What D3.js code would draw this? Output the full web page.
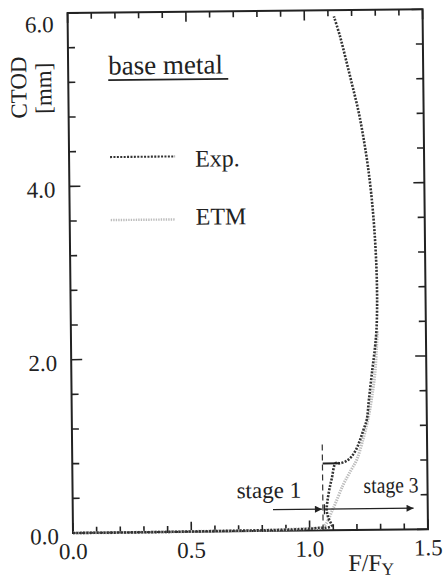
<!DOCTYPE html>
<html><head><meta charset="utf-8">
<script src="https://cdn.jsdelivr.net/npm/d3@7"></script>
<style>
html,body{margin:0;padding:0;background:#fff;}
svg text{font-family:"Liberation Serif","Times New Roman",serif;fill:#222;}
</style></head>
<body>
<svg id="chart" width="446" height="582"></svg>
<script>
// ---- data ----
const expX = [0.00,0.30,0.60,0.90,1.00,1.04,1.07,1.093,1.080,1.073,1.076,1.085,1.096,1.113,1.131,1.160,1.181,1.202,1.217,1.231,1.246,1.256,1.272,1.284,1.291,1.295,1.294,1.287,1.276,1.262,1.245,1.225,1.200,1.175,1.150,1.125];
const expY = [0.00,0.00,0.005,0.012,0.02,0.03,0.03,0.05,0.14,0.23,0.33,0.47,0.60,0.775,0.772,0.80,0.85,0.94,1.04,1.15,1.27,1.50,1.85,2.10,2.30,2.60,3.00,3.45,3.85,4.20,4.52,4.83,5.13,5.42,5.70,5.93];
const etmX = [0.00,0.30,0.60,0.85,0.95,1.00,1.057,1.10,1.143,1.175,1.202,1.229,1.251,1.268,1.283,1.291,1.295];
const etmY = [0.00,0.00,0.005,0.01,0.02,0.025,0.04,0.25,0.52,0.68,0.81,1.04,1.27,1.52,1.81,2.11,2.30];
const popX = [1.058, 1.131];
const popY = 0.773;
const stageX = [0.846, 1.057, 1.44];
const stageY = 0.245;
const dashedTop = 0.99;
const xTickLabels = [0.0, 0.5, 1.0, 1.5];
const yTickLabels = [0.0, 2.0, 4.0, 6.0];
const xMinorStep = 0.1, yMinorStep = 0.4;
const seriesNames = ["Exp.", "ETM"];
const titleText = "base metal";

// ---- layout ----
const L = 73, R = 428, T = 13, B = 533;
const svg = d3.select("#chart");
const g = svg.append("g").attr("transform", `rotate(-0.6, ${L}, ${B})`);
const x = d3.scaleLinear().domain([0, 1.5]).range([L, R]);
const y = d3.scaleLinear().domain([0, 6]).range([B, T]);
const ink = "#222";
const fmt = d3.format(".1f");

const xTicks = d3.range(0, 1.5 + 1e-9, xMinorStep);
const yTicks = d3.range(0, 6 + 1e-9, yMinorStep);
const isMajor = (arr, v) => arr.some(m => Math.abs(m - v) < 1e-6);

const tg = g.append("g").attr("stroke", ink).attr("stroke-width", 1.6);
tg.selectAll("line.tb").data(xTicks).join("line").attr("class", "tb")
  .attr("x1", d => x(d)).attr("x2", d => x(d))
  .attr("y1", B).attr("y2", d => B - (isMajor(xTickLabels, d) ? 10 : 6));
tg.selectAll("line.tt").data(xTicks).join("line").attr("class", "tt")
  .attr("x1", d => x(d)).attr("x2", d => x(d))
  .attr("y1", T).attr("y2", d => T + (isMajor(xTickLabels, d) ? 10 : 6));
tg.selectAll("line.tl").data(yTicks).join("line").attr("class", "tl")
  .attr("y1", d => y(d)).attr("y2", d => y(d))
  .attr("x1", L).attr("x2", d => L + (isMajor(yTickLabels, d) ? 11 : 7));
tg.selectAll("line.tr").data(yTicks).join("line").attr("class", "tr")
  .attr("y1", d => y(d)).attr("y2", d => y(d))
  .attr("x1", R).attr("x2", d => R - (isMajor(yTickLabels, d) ? 11 : 7));

g.selectAll("text.xl").data(xTickLabels).join("text").attr("class", "xl")
  .attr("x", d => x(d)).attr("y", B + 26).attr("text-anchor", "middle").attr("font-size", 23).text(fmt);
g.selectAll("text.yl").data(yTickLabels).join("text").attr("class", "yl")
  .attr("x", L - 14).attr("y", d => Math.max(y(d) + 11, T + 19)).attr("text-anchor", "end").attr("font-size", 23).text(fmt);

g.append("rect").attr("x", L).attr("y", T).attr("width", R - L).attr("height", B - T)
  .attr("fill", "none").attr("stroke", ink).attr("stroke-width", 2);

g.append("text").attr("transform", `translate(31,87) rotate(-90)`).attr("text-anchor", "middle")
  .attr("font-size", 23).text("CTOD");
g.append("text").attr("transform", `translate(56,88) rotate(-90)`).attr("text-anchor", "middle")
  .attr("font-size", 23).text("[mm]");
const xt = g.append("text").attr("x", 348).attr("y", 574).attr("font-size", 24);
xt.append("tspan").text("F/F");
xt.append("tspan").attr("font-size", 17).attr("dy", 4).text("Y");

const line = d3.line().x(d => x(d[0])).y(d => y(d[1])).curve(d3.curveCatmullRom.alpha(0.5));
const etmPts = etmX.map((v, i) => [v, etmY[i]]);
const expPts = expX.map((v, i) => [v, expY[i]]);
const etmStyle = {stroke: "#bdbdbd", w: 3, dash: "1.4,1.1"};
const expStyle = {stroke: "#333", w: 2.6, dash: "2,1.4"};

g.append("path").datum(etmPts).attr("d", line).attr("fill", "none")
  .attr("stroke", etmStyle.stroke).attr("stroke-width", etmStyle.w).attr("stroke-dasharray", etmStyle.dash);
g.append("path").datum(expPts).attr("d", line).attr("fill", "none")
  .attr("stroke", expStyle.stroke).attr("stroke-width", expStyle.w).attr("stroke-dasharray", expStyle.dash);

g.append("line").attr("x1", x(popX[0])).attr("x2", x(popX[1])).attr("y1", y(popY)).attr("y2", y(popY))
  .attr("stroke", "#222").attr("stroke-width", 2);
g.append("line").attr("x1", x(stageX[1])).attr("x2", x(stageX[1])).attr("y1", y(dashedTop)).attr("y2", y(0))
  .attr("stroke", "#333").attr("stroke-width", 1.2).attr("stroke-dasharray", "6,4");

const defs = svg.append("defs");
defs.append("marker").attr("id", "ah").attr("viewBox", "0 0 10 10").attr("refX", 10).attr("refY", 5)
  .attr("markerWidth", 9).attr("markerHeight", 7).attr("markerUnits", "userSpaceOnUse").attr("orient", "auto")
  .append("path").attr("d", "M0,0 L10,5 L0,10 Z").attr("fill", "#222");
g.append("line").attr("x1", x(stageX[0])).attr("x2", x(stageX[1]) - 1).attr("y1", y(stageY)).attr("y2", y(stageY))
  .attr("stroke", "#222").attr("stroke-width", 1.3).attr("marker-end", "url(#ah)");
g.append("line").attr("x1", x(stageX[1]) + 1).attr("x2", x(stageX[2])).attr("y1", y(stageY)).attr("y2", y(stageY))
  .attr("stroke", "#222").attr("stroke-width", 1.3).attr("marker-end", "url(#ah)");
g.append("line").attr("x1", x(stageX[1]) + 1.5).attr("x2", x(stageX[1]) + 1.5).attr("y1", y(stageY) - 5).attr("y2", y(stageY) + 5)
  .attr("stroke", "#222").attr("stroke-width", 1.3);
g.append("text").attr("x", 237).attr("y", 500).attr("font-size", 23).text("stage 1");
g.append("text").attr("x", 364).attr("y", 496).attr("font-size", 22).attr("textLength", 55)
  .attr("lengthAdjust", "spacingAndGlyphs").text("stage 3");

g.append("text").attr("x", 113).attr("y", 75).attr("font-size", 27).text(titleText);
g.append("line").attr("x1", 113).attr("x2", 233).attr("y1", 80.5).attr("y2", 80.5)
  .attr("stroke", "#222").attr("stroke-width", 1.6);
const legItems = [
  {name: seriesNames[0], st: expStyle, ly: 157.5, ty: 168},
  {name: seriesNames[1], st: etmStyle, ly: 220.5, ty: 226}
];
legItems.forEach(it => {
  g.append("line").attr("x1", 114).attr("x2", 179).attr("y1", it.ly).attr("y2", it.ly)
    .attr("stroke", it.st.stroke).attr("stroke-width", it.st.w * 0.8).attr("stroke-dasharray", it.st.dash);
  g.append("text").attr("x", 199).attr("y", it.ty).attr("font-size", 24).text(it.name);
});
</script>
</body></html>
